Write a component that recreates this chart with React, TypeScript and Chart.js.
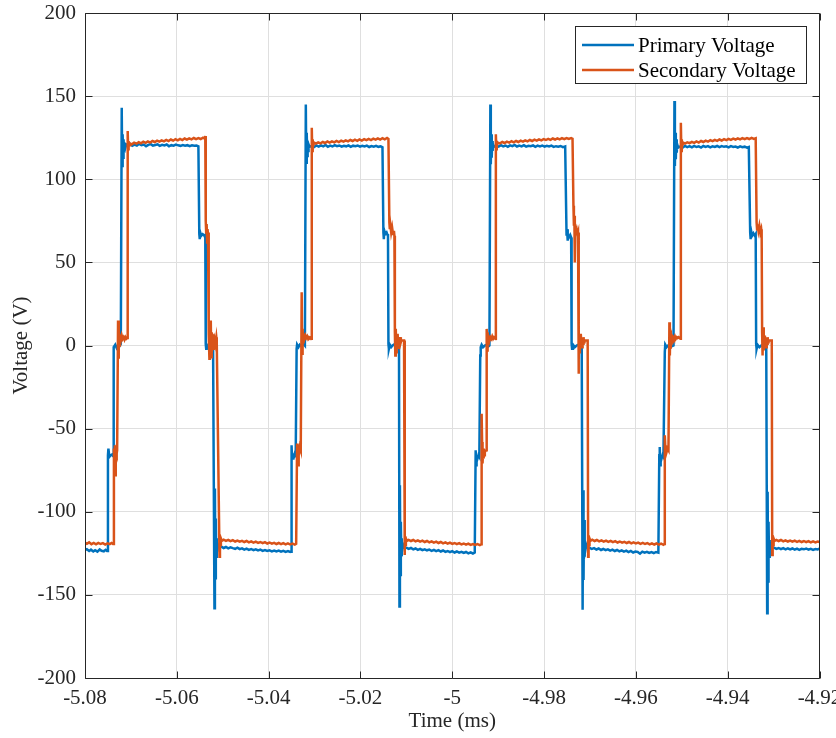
import React, { useEffect, useRef } from 'react';
import { Chart, registerables } from 'chart.js';

Chart.register(...registerables);

// ---- tick labels ----
const xTicks = [-5.08, -5.06, -5.04, -5.02, -5.0, -4.98, -4.96, -4.94, -4.92];
const yTicks = [-200, -150, -100, -50, 0, 50, 100, 150, 200];
const seriesNames = ['Primary Voltage', 'Secondary Voltage'];
const xTitle = 'Time (ms)';
const yTitle = 'Voltage (V)';

// ---- Primary voltage trace: [time (ms), voltage (V)] ----
const primaryTrace: [number, number][] = [
  [-5.08, -123], [-5.0796, -122.5], [-5.0791, -123.6], [-5.0787, -122.8], [-5.0782, -123.9], [-5.0778, -123.1],
  [-5.0773, -124], [-5.0768, -122.7], [-5.0764, -123.5], [-5.0759, -123.8], [-5.0755, -122.9], [-5.0752, -123.6],
  [-5.075, -66], [-5.0749, -62], [-5.0747, -67], [-5.0744, -66], [-5.0741, -65.5], [-5.0739, -66.5],
  [-5.0738, -3], [-5.0737, -1], [-5.0734, 0.5], [-5.0731, -1.5], [-5.0728, 0], [-5.0725, -0.5], [-5.0722, 1],
  [-5.072, 143], [-5.0719, 108], [-5.0718, 127], [-5.0717, 113], [-5.0716, 124], [-5.0715, 117], [-5.0714, 122],
  [-5.0712, 119], [-5.071, 121],
  [-5.0706, 120.3], [-5.0701, 121.2], [-5.0697, 120.1], [-5.0692, 120.8], [-5.0687, 120.2], [-5.0682, 121.3],
  [-5.0677, 120.5], [-5.0672, 120.9], [-5.0667, 119.9], [-5.0662, 120.7], [-5.0657, 121.1], [-5.0652, 120.2],
  [-5.0647, 120.6], [-5.0642, 121], [-5.0637, 120.1], [-5.0632, 120.7], [-5.0627, 120.3], [-5.0622, 120.9],
  [-5.0617, 119.8], [-5.0612, 120.5], [-5.0607, 120.2], [-5.0602, 120.8], [-5.0597, 120.4], [-5.0592, 120.1],
  [-5.0587, 120.6], [-5.0582, 120.2], [-5.0577, 120.5], [-5.0572, 119.9], [-5.0567, 120.4], [-5.0562, 120.1],
  [-5.0557, 120.3], [-5.0553, 119.8],
  [-5.0551, 67], [-5.055, 64], [-5.0549, 68], [-5.0547, 66], [-5.0544, 67], [-5.0541, 66.5], [-5.0539, 65.5], [-5.0538, 66],
  [-5.0537, 1], [-5.0536, -2], [-5.0535, 0.5], [-5.0532, -1], [-5.0529, 0], [-5.0526, -0.5], [-5.0523, 0.5], [-5.0521, -1],
  [-5.0518, -158], [-5.0517, -86], [-5.0516, -140], [-5.0515, -104], [-5.0514, -127], [-5.0513, -116], [-5.0512, -124],
  [-5.051, -120], [-5.0508, -121.5],
  [-5.0503, -121], [-5.0498, -121.8], [-5.0493, -121.2], [-5.0488, -122], [-5.0483, -121.4], [-5.0478, -121.9],
  [-5.0473, -122.3], [-5.0468, -121.6], [-5.0463, -122.5], [-5.0458, -122], [-5.0453, -122.8], [-5.0448, -122.2],
  [-5.0443, -122.9], [-5.0438, -122.4], [-5.0433, -123.1], [-5.0428, -122.6], [-5.0423, -123.3], [-5.0418, -122.8],
  [-5.0413, -123.5], [-5.0408, -123], [-5.0403, -123.6], [-5.0398, -123.2], [-5.0393, -123.8], [-5.0388, -123.3],
  [-5.0383, -123.9], [-5.0378, -123.4], [-5.0373, -124], [-5.0368, -123.5], [-5.0363, -124.1], [-5.0358, -123.6],
  [-5.0353, -124.2], [-5.0351, -124],
  [-5.035, -60], [-5.0349, -68], [-5.0347, -66], [-5.0345, -67], [-5.0343, -65], [-5.0341, -66],
  [-5.0339, -2], [-5.0338, 0.5], [-5.0335, -1], [-5.0332, 0.5], [-5.0328, -0.5], [-5.0324, 1], [-5.0321, 0],
  [-5.0319, 145], [-5.0318, 110], [-5.0317, 128], [-5.0316, 114], [-5.0315, 123], [-5.0314, 117], [-5.0313, 121], [-5.0311, 119.5],
  [-5.0306, 120.1], [-5.0301, 119.4], [-5.0296, 120.3], [-5.0291, 119.6], [-5.0286, 120.4], [-5.0281, 119.8],
  [-5.0276, 120.6], [-5.0271, 119.5], [-5.0266, 120.2], [-5.0261, 119.7], [-5.0256, 120.5], [-5.0251, 119.9],
  [-5.0246, 120.3], [-5.0241, 119.6], [-5.0236, 120.1], [-5.0231, 119.8], [-5.0226, 120.4], [-5.0221, 119.5],
  [-5.0216, 120.2], [-5.0211, 119.9], [-5.0206, 120.3], [-5.0201, 119.6], [-5.0196, 120.1], [-5.0191, 119.7],
  [-5.0186, 120.2], [-5.0181, 119.4], [-5.0176, 120], [-5.0171, 119.6], [-5.0166, 120.1], [-5.0161, 119.5],
  [-5.0156, 119.8], [-5.0152, 119.2],
  [-5.015, 68], [-5.0149, 64], [-5.0148, 69], [-5.0146, 67], [-5.0143, 68], [-5.0141, 66.5], [-5.014, 67],
  [-5.0139, 1], [-5.0138, -2], [-5.0136, 0.5], [-5.0133, -1], [-5.013, 0], [-5.0127, 0.5], [-5.0123, -0.5], [-5.0119, 0], [-5.0116, 0],
  [-5.0115, -157], [-5.0114, -84], [-5.0113, -138], [-5.0112, -106], [-5.0111, -126], [-5.011, -116], [-5.0109, -123],
  [-5.0107, -120], [-5.0105, -121.5],
  [-5.01, -121.6], [-5.0095, -122.3], [-5.009, -121.8], [-5.0085, -122.6], [-5.008, -122.1], [-5.0075, -122.9],
  [-5.007, -122.3], [-5.0065, -123.1], [-5.006, -122.6], [-5.0055, -123.2], [-5.005, -122.8], [-5.0045, -123.5],
  [-5.004, -122.9], [-5.0035, -123.7], [-5.003, -123.1], [-5.0025, -123.9], [-5.002, -123.3], [-5.0015, -124.1],
  [-5.001, -123.6], [-5.0005, -124.3], [-5.0, -123.7], [-4.9995, -124.5], [-4.999, -123.9], [-4.9985, -124.6],
  [-4.998, -124.1], [-4.9975, -124.8], [-4.997, -124.2], [-4.9965, -125], [-4.996, -124.4], [-4.9955, -125.1], [-4.9951, -124.5],
  [-4.9949, -63], [-4.9948, -72], [-4.9947, -67], [-4.9945, -68], [-4.9943, -66], [-4.9941, -67],
  [-4.9939, -6], [-4.9938, -1], [-4.9936, 0.5], [-4.9933, -1], [-4.9929, 0], [-4.9925, 0.5], [-4.9921, -0.5], [-4.9919, 0],
  [-4.9917, 145], [-4.9916, 109], [-4.9915, 127], [-4.9914, 113], [-4.9913, 123], [-4.9912, 117], [-4.9911, 121], [-4.9909, 119.5],
  [-4.9904, 120.2], [-4.9899, 119.6], [-4.9894, 120.5], [-4.9889, 119.8], [-4.9884, 120.3], [-4.9879, 119.5],
  [-4.9874, 120.4], [-4.9869, 119.9], [-4.9864, 120.6], [-4.9859, 119.7], [-4.9854, 120.2], [-4.9849, 119.8],
  [-4.9844, 120.5], [-4.9839, 119.6], [-4.9834, 120.1], [-4.9829, 119.9], [-4.9824, 120.4], [-4.9819, 119.5],
  [-4.9814, 120.2], [-4.9809, 119.8], [-4.9804, 120.3], [-4.9799, 119.6], [-4.9794, 120.1], [-4.9789, 119.7],
  [-4.9784, 120.2], [-4.9779, 119.5], [-4.9774, 119.9], [-4.9769, 119.6], [-4.9764, 120], [-4.9759, 119.3], [-4.9754, 119.7],
  [-4.9751, 66], [-4.975, 70], [-4.9749, 63], [-4.9748, 67], [-4.9746, 65], [-4.9743, 66.5], [-4.9741, 65],
  [-4.974, 1], [-4.9739, -2], [-4.9737, 0.5], [-4.9733, -1], [-4.9729, 0], [-4.9725, 0.5], [-4.9721, -0.5], [-4.9718, 0],
  [-4.9716, -159], [-4.9715, -87], [-4.9714, -141], [-4.9713, -105], [-4.9712, -127], [-4.9711, -117], [-4.971, -123],
  [-4.9708, -120], [-4.9706, -121.5],
  [-4.9701, -121.7], [-4.9696, -122.4], [-4.9691, -121.9], [-4.9686, -122.7], [-4.9681, -122.1], [-4.9676, -123],
  [-4.9671, -122.4], [-4.9666, -123.1], [-4.9661, -122.6], [-4.9656, -123.4], [-4.9651, -122.8], [-4.9646, -123.6],
  [-4.9641, -123], [-4.9636, -123.8], [-4.9631, -123.2], [-4.9626, -124], [-4.9621, -123.4], [-4.9616, -124.3],
  [-4.9611, -123.6], [-4.9606, -124.5], [-4.9601, -123.9], [-4.9596, -124.2], [-4.9591, -125.2], [-4.9586, -124],
  [-4.9581, -124.6], [-4.9576, -124.1], [-4.9571, -124.8], [-4.9566, -124.3], [-4.9561, -124.9], [-4.9556, -124.2], [-4.9551, -124.6],
  [-4.9549, -66], [-4.9548, -61], [-4.9547, -72], [-4.9546, -67], [-4.9544, -68], [-4.9542, -66], [-4.954, -67],
  [-4.9537, -4], [-4.9536, 0.5], [-4.9533, -1], [-4.953, 0], [-4.9526, 0.5], [-4.9522, -0.5], [-4.9518, 0],
  [-4.9516, 147], [-4.9515, 108], [-4.9514, 128], [-4.9513, 112], [-4.9512, 124], [-4.9511, 116], [-4.951, 121], [-4.9508, 119],
  [-4.9503, 119.7], [-4.9498, 119.1], [-4.9493, 120], [-4.9488, 119.3], [-4.9483, 119.9], [-4.9478, 119.2],
  [-4.9473, 120.1], [-4.9468, 119.4], [-4.9463, 119.8], [-4.9458, 119.1], [-4.9453, 120], [-4.9448, 119.5],
  [-4.9443, 119.9], [-4.9438, 119.2], [-4.9433, 119.8], [-4.9428, 119.4], [-4.9423, 120], [-4.9418, 119.3],
  [-4.9413, 119.9], [-4.9408, 119.5], [-4.9403, 119.8], [-4.9398, 119.2], [-4.9393, 119.9], [-4.9388, 119.4],
  [-4.9383, 119.7], [-4.9378, 119.1], [-4.9373, 119.8], [-4.9368, 119.3], [-4.9363, 119.6], [-4.9358, 119], [-4.9354, 119.4],
  [-4.9351, 68], [-4.935, 64], [-4.9349, 69], [-4.9347, 66], [-4.9344, 67.5], [-4.9341, 66], [-4.9339, 67],
  [-4.9338, 1], [-4.9337, -2], [-4.9335, 0.5], [-4.9331, -1], [-4.9327, 0], [-4.9323, 0.5], [-4.9319, -0.5], [-4.9316, 0],
  [-4.9314, -161], [-4.9313, -88], [-4.9312, -142], [-4.9311, -106], [-4.931, -127], [-4.9309, -117], [-4.9308, -123],
  [-4.9306, -120], [-4.9304, -121.5],
  [-4.9299, -121.6], [-4.9294, -122.3], [-4.9289, -121.8], [-4.9284, -122.5], [-4.9279, -121.9], [-4.9274, -122.6],
  [-4.9269, -122], [-4.9264, -122.7], [-4.9259, -122.1], [-4.9254, -122.8], [-4.9249, -122.2], [-4.9244, -122.9],
  [-4.9239, -122.3], [-4.9234, -122.6], [-4.9229, -122.1], [-4.9224, -122.8], [-4.9219, -122.3], [-4.9214, -122.9],
  [-4.9209, -122.4], [-4.9204, -122.7], [-4.92, -122.2],
];

// ---- Secondary voltage trace: [time (ms), voltage (V)] ----
const secondaryTrace: [number, number][] = [
  [-5.08, -118.6], [-5.0796, -119.3], [-5.0791, -118.4], [-5.0786, -119.5], [-5.0781, -118.8], [-5.0776, -119.6],
  [-5.0771, -118.7], [-5.0766, -119.4], [-5.0761, -118.9], [-5.0756, -119.7], [-5.0751, -119], [-5.0746, -119.5],
  [-5.0742, -118.8], [-5.0739, -119.4],
  [-5.0737, -62], [-5.0736, -66], [-5.0735, -60], [-5.0734, -78], [-5.0733, -70], [-5.0732, -64], [-5.0731, -65], [-5.073, -63],
  [-5.0728, 15], [-5.0727, -8], [-5.0726, 6], [-5.0725, 0], [-5.0724, 5], [-5.0722, 3], [-5.072, 6], [-5.0718, 4],
  [-5.0716, 5], [-5.0714, 3.5], [-5.0712, 5], [-5.071, 4], [-5.0708, 4.5],
  [-5.0707, 129], [-5.0706, 118], [-5.0705, 123], [-5.0704, 120.5], [-5.0702, 121.5],
  [-5.0698, 121], [-5.0693, 122], [-5.0688, 121.4], [-5.0683, 122.3], [-5.0678, 121.6], [-5.0673, 122.6],
  [-5.0668, 121.9], [-5.0663, 122.8], [-5.0658, 122.1], [-5.0653, 123], [-5.0648, 122.4], [-5.0643, 123.2],
  [-5.0638, 122.6], [-5.0633, 123.4], [-5.0628, 122.8], [-5.0623, 123.7], [-5.0618, 123], [-5.0613, 123.9],
  [-5.0608, 123.2], [-5.0603, 124.1], [-5.0598, 123.4], [-5.0593, 124.3], [-5.0588, 123.6], [-5.0583, 124.5],
  [-5.0578, 123.8], [-5.0573, 124.6], [-5.0568, 124], [-5.0563, 124.8], [-5.0558, 124.1], [-5.0553, 124.7],
  [-5.0548, 124.2], [-5.0543, 125], [-5.0539, 124.4], [-5.0538, 126],
  [-5.0537, 75], [-5.0536, 68], [-5.0535, 73], [-5.0534, 62], [-5.0533, 70], [-5.0532, 66], [-5.0531, 68],
  [-5.053, 7], [-5.0529, -8], [-5.0528, 9], [-5.0527, -3], [-5.0526, 15], [-5.0525, -7], [-5.0524, 8], [-5.0523, 2],
  [-5.0522, 7], [-5.0521, -2], [-5.052, 5], [-5.0519, 2], [-5.0518, 4], [-5.0516, 1], [-5.0514, 5], [-5.0513, 2],
  [-5.0507, -127], [-5.0506, -115], [-5.0505, -120], [-5.0504, -116], [-5.0502, -117.5],
  [-5.0498, -116.8], [-5.0493, -117.5], [-5.0488, -116.9], [-5.0483, -117.7], [-5.0478, -117.1], [-5.0473, -117.9],
  [-5.0468, -117.3], [-5.0463, -118], [-5.0458, -117.5], [-5.0453, -118.2], [-5.0448, -117.6], [-5.0443, -118.4],
  [-5.0438, -117.8], [-5.0433, -118.6], [-5.0428, -118], [-5.0423, -118.7], [-5.0418, -118.2], [-5.0413, -118.9],
  [-5.0408, -118.3], [-5.0403, -119.1], [-5.0398, -118.5], [-5.0393, -119.2], [-5.0388, -118.7], [-5.0383, -119.4],
  [-5.0378, -118.8], [-5.0373, -119.5], [-5.0368, -118.9], [-5.0363, -119.6], [-5.0358, -119], [-5.0353, -119.7],
  [-5.0348, -119.2], [-5.0343, -119.8], [-5.034, -119.3],
  [-5.0338, -59], [-5.0337, -64], [-5.0336, -72], [-5.0335, -62], [-5.0334, -66], [-5.0332, -61], [-5.033, -63],
  [-5.0328, 32], [-5.0327, -5], [-5.0326, 10], [-5.0325, 2], [-5.0324, 6], [-5.0322, 4], [-5.032, 6], [-5.0318, 4.5],
  [-5.0316, 5.5], [-5.0314, 4], [-5.0312, 5], [-5.031, 4.5], [-5.0308, 5], [-5.0307, 4],
  [-5.0306, 131], [-5.0305, 117], [-5.0304, 124], [-5.0303, 120], [-5.0301, 122],
  [-5.0297, 121.4], [-5.0292, 122.2], [-5.0287, 121.6], [-5.0282, 122.4], [-5.0277, 121.8], [-5.0272, 122.7],
  [-5.0267, 122], [-5.0262, 122.8], [-5.0257, 122.2], [-5.0252, 123.1], [-5.0247, 122.4], [-5.0242, 123.2],
  [-5.0237, 122.6], [-5.0232, 123.4], [-5.0227, 122.8], [-5.0222, 123.6], [-5.0217, 123], [-5.0212, 123.8],
  [-5.0207, 123.1], [-5.0202, 124], [-5.0197, 123.3], [-5.0192, 124.1], [-5.0187, 123.5], [-5.0182, 124.3],
  [-5.0177, 123.6], [-5.0172, 124.4], [-5.0167, 123.8], [-5.0162, 124.6], [-5.0157, 123.9], [-5.0152, 124.7],
  [-5.0147, 124], [-5.0142, 124.8], [-5.0139, 124.3],
  [-5.0137, 74], [-5.0136, 70], [-5.0135, 73], [-5.0133, 68], [-5.0131, 71], [-5.0129, 67], [-5.0127, 69], [-5.0126, 66],
  [-5.0125, 8], [-5.0124, -6], [-5.0123, 10], [-5.0122, -4], [-5.0121, 6], [-5.012, 0], [-5.0119, 7], [-5.0118, 2],
  [-5.0117, 5], [-5.0116, -2], [-5.0115, 4], [-5.0114, 1], [-5.0113, 5], [-5.0112, 2], [-5.0111, 3], [-5.0105, 3],
  [-5.0104, -126], [-5.0103, -115], [-5.0102, -120], [-5.0101, -116], [-5.0099, -117.5],
  [-5.0095, -116.9], [-5.009, -117.6], [-5.0085, -117], [-5.008, -117.8], [-5.0075, -117.2], [-5.007, -118],
  [-5.0065, -117.4], [-5.006, -118.2], [-5.0055, -117.6], [-5.005, -118.4], [-5.0045, -117.8], [-5.004, -118.6],
  [-5.0035, -118], [-5.003, -118.8], [-5.0025, -118.2], [-5.002, -119], [-5.0015, -118.4], [-5.001, -119.2],
  [-5.0005, -118.6], [-5.0, -119.3], [-4.9995, -118.8], [-4.999, -119.5], [-4.9985, -118.9], [-4.998, -119.6],
  [-4.9975, -119.1], [-4.997, -119.8], [-4.9965, -119.2], [-4.996, -119.9], [-4.9955, -119.4], [-4.995, -120],
  [-4.9945, -119.5], [-4.994, -120.1], [-4.9937, -119.6],
  [-4.9936, -41], [-4.9935, -58], [-4.9934, -71], [-4.9933, -64], [-4.9932, -68], [-4.9931, -62], [-4.993, -66],
  [-4.9929, -64], [-4.9926, -63],
  [-4.9925, 10], [-4.9924, -3], [-4.9923, 8], [-4.9922, 1], [-4.9921, 6], [-4.9919, 3], [-4.9917, 5], [-4.9915, 4],
  [-4.9913, 5.5], [-4.9911, 4], [-4.9909, 5], [-4.9907, 4.5], [-4.9906, 4],
  [-4.9905, 127], [-4.9904, 118], [-4.9903, 123], [-4.9902, 121], [-4.99, 122],
  [-4.9896, 121.6], [-4.9891, 122.4], [-4.9886, 121.8], [-4.9881, 122.6], [-4.9876, 122], [-4.9871, 122.9],
  [-4.9866, 122.2], [-4.9861, 123], [-4.9856, 122.4], [-4.9851, 123.2], [-4.9846, 122.6], [-4.9841, 123.4],
  [-4.9836, 122.8], [-4.9831, 123.6], [-4.9826, 123], [-4.9821, 123.8], [-4.9816, 123.2], [-4.9811, 124],
  [-4.9806, 123.4], [-4.9801, 124.1], [-4.9796, 123.6], [-4.9791, 124.3], [-4.9786, 123.7], [-4.9781, 124.5],
  [-4.9776, 123.9], [-4.9771, 124.6], [-4.9766, 124], [-4.9761, 124.7], [-4.9756, 124.1], [-4.9751, 124.8],
  [-4.9746, 124.2], [-4.9741, 124.7], [-4.9738, 124.3],
  [-4.9736, 84], [-4.9735, 72], [-4.9734, 78], [-4.9733, 50], [-4.9732, 70], [-4.9731, 68], [-4.9729, 70], [-4.9727, 67], [-4.9726, 68],
  [-4.9725, -17], [-4.9724, 8], [-4.9723, -4], [-4.9722, 6], [-4.9721, 0], [-4.972, 7], [-4.9719, 2], [-4.9718, 5],
  [-4.9717, -1], [-4.9716, 4], [-4.9715, 1], [-4.9714, 5], [-4.9713, 2], [-4.9712, 3], [-4.9705, 3],
  [-4.9704, -127], [-4.9703, -115], [-4.9702, -120], [-4.9701, -116], [-4.9699, -117.5],
  [-4.9695, -116.8], [-4.969, -117.6], [-4.9685, -117], [-4.968, -117.8], [-4.9675, -117.2], [-4.967, -118],
  [-4.9665, -117.4], [-4.966, -118.1], [-4.9655, -117.5], [-4.965, -118.3], [-4.9645, -117.7], [-4.964, -118.5],
  [-4.9635, -117.9], [-4.963, -118.6], [-4.9625, -118.1], [-4.962, -118.8], [-4.9615, -118.2], [-4.961, -119],
  [-4.9605, -118.4], [-4.96, -119.1], [-4.9595, -118.6], [-4.959, -119.3], [-4.9585, -118.7], [-4.958, -119.4],
  [-4.9575, -118.9], [-4.957, -119.6], [-4.9565, -119], [-4.956, -119.7], [-4.9555, -119.1], [-4.955, -119.8],
  [-4.9545, -119.2], [-4.954, -119.9], [-4.9538, -119.4],
  [-4.9537, -54], [-4.9536, -60], [-4.9535, -66], [-4.9534, -61], [-4.9533, -64], [-4.9531, -62], [-4.9529, -63],
  [-4.9527, 14], [-4.9526, -6], [-4.9525, 9], [-4.9524, -2], [-4.9523, 6], [-4.9521, 3], [-4.9519, 5], [-4.9517, 4],
  [-4.9515, 5.5], [-4.9513, 4], [-4.9511, 5], [-4.9509, 4.5], [-4.9507, 5], [-4.9503, 4],
  [-4.9502, 134], [-4.9501, 117], [-4.95, 124], [-4.9499, 120], [-4.9497, 122],
  [-4.9493, 121.4], [-4.9488, 122.2], [-4.9483, 121.7], [-4.9478, 122.5], [-4.9473, 121.9], [-4.9468, 122.8],
  [-4.9463, 122.1], [-4.9458, 123], [-4.9453, 122.4], [-4.9448, 123.2], [-4.9443, 122.6], [-4.9438, 123.5],
  [-4.9433, 122.9], [-4.9428, 123.7], [-4.9423, 123.1], [-4.9418, 123.9], [-4.9413, 123.3], [-4.9408, 124.1],
  [-4.9403, 123.5], [-4.9398, 124.3], [-4.9393, 123.7], [-4.9388, 124.4], [-4.9383, 123.9], [-4.9378, 124.6],
  [-4.9373, 124], [-4.9368, 124.7], [-4.9363, 124.1], [-4.9358, 124.8], [-4.9353, 124.2], [-4.9348, 124.9],
  [-4.9343, 124.3], [-4.9339, 124.7],
  [-4.9337, 74], [-4.9336, 70], [-4.9335, 73], [-4.9333, 69], [-4.9331, 72], [-4.9329, 68], [-4.9327, 70], [-4.9326, 67],
  [-4.9325, 8], [-4.9324, -6], [-4.9323, 11], [-4.9322, -3], [-4.9321, 7], [-4.932, 0], [-4.9319, 6], [-4.9318, 2],
  [-4.9317, 5], [-4.9316, -1], [-4.9315, 4], [-4.9314, 1], [-4.9313, 5], [-4.9312, 2], [-4.9311, 3], [-4.9304, 3],
  [-4.9303, -126], [-4.9302, -115], [-4.9301, -120], [-4.93, -116], [-4.9298, -117.5],
  [-4.9294, -116.9], [-4.9289, -117.6], [-4.9284, -117], [-4.9279, -117.8], [-4.9274, -117.2], [-4.9269, -117.9],
  [-4.9264, -117.3], [-4.9259, -118], [-4.9254, -117.4], [-4.9249, -118.1], [-4.9244, -117.5], [-4.9239, -118.2],
  [-4.9234, -117.6], [-4.9229, -118.3], [-4.9224, -117.7], [-4.9219, -118.4], [-4.9214, -117.8], [-4.9209, -118.4],
  [-4.9204, -117.9], [-4.92, -118.2],
];

const seriesColors = ['#0072BD', '#D95319'];
const FONT = '"Liberation Serif", "Times New Roman", Times, serif';
const AXIS = '#262626';
const GRID = '#dfdfdf';

export default function App() {
  const ref = useRef<HTMLCanvasElement | null>(null);

  useEffect(() => {
    const canvas = ref.current;
    if (!canvas) return;

    const framePlugin = {
      id: 'matlabFrame',
      afterDatasetsDraw(chart: any) {
        const { ctx, chartArea: a, scales } = chart;
        const L = Math.round(a.left) + 0.5;
        const R = Math.round(a.right) - 0.5;
        const T = Math.round(a.top) + 0.5;
        const B = Math.round(a.bottom) + 0.5;
        ctx.save();
        ctx.strokeStyle = AXIS;
        ctx.lineWidth = 1;
        ctx.beginPath();
        ctx.rect(L, T, R - L, B - T);
        const tl = 7;
        for (const v of xTicks) {
          const px = Math.round(scales.x.getPixelForValue(v)) + 0.5;
          ctx.moveTo(px, B);
          ctx.lineTo(px, B - tl);
          ctx.moveTo(px, T);
          ctx.lineTo(px, T + tl);
        }
        for (const v of yTicks) {
          const py = Math.round(scales.y.getPixelForValue(v)) + 0.5;
          ctx.moveTo(L, py);
          ctx.lineTo(L + tl, py);
          ctx.moveTo(R, py);
          ctx.lineTo(R - tl, py);
        }
        ctx.stroke();
        ctx.restore();
      },
      afterDraw(chart: any) {
        const { ctx } = chart;
        const bx = 575.5, by = 26.5, bw = 231, bh = 57;
        ctx.save();
        ctx.fillStyle = '#ffffff';
        ctx.fillRect(bx, by, bw, bh);
        ctx.strokeStyle = AXIS;
        ctx.lineWidth = 1;
        ctx.strokeRect(bx, by, bw, bh);
        const rows = [45, 70];
        seriesNames.forEach((name, i) => {
          ctx.strokeStyle = seriesColors[i];
          ctx.lineWidth = 2.5;
          ctx.beginPath();
          ctx.moveTo(582, rows[i]);
          ctx.lineTo(634, rows[i]);
          ctx.stroke();
          ctx.fillStyle = '#000000';
          ctx.font = `21px ${FONT}`;
          ctx.textBaseline = 'middle';
          ctx.textAlign = 'left';
          ctx.fillText(name, 638, rows[i] + 1);
        });
        ctx.restore();
      },
    };

    const toPoints = (trace: [number, number][]) => trace.map(([x, y]) => ({ x, y }));

    const chart = new Chart(canvas, {
      type: 'line',
      data: {
        datasets: [
          {
            label: seriesNames[0],
            data: toPoints(primaryTrace),
            borderColor: seriesColors[0],
            backgroundColor: seriesColors[0],
            borderWidth: 2.5,
            pointRadius: 0,
            tension: 0,
            fill: false,
            order: 1,
          },
          {
            label: seriesNames[1],
            data: toPoints(secondaryTrace),
            borderColor: seriesColors[1],
            backgroundColor: seriesColors[1],
            borderWidth: 2.5,
            pointRadius: 0,
            tension: 0,
            fill: false,
            order: 0,
          },
        ],
      },
      options: {
        responsive: false,
        animation: false,
        devicePixelRatio: 1,
        layout: { padding: { top: 13, right: 16.5, bottom: 0, left: 0 } },
        plugins: {
          legend: { display: false },
          tooltip: { enabled: false },
        },
        scales: {
          x: {
            type: 'linear',
            min: -5.08,
            max: -4.92,
            afterBuildTicks: (scale: any) => {
              scale.ticks = xTicks.map((v) => ({ value: v }));
            },
            afterFit: (scale: any) => {
              scale.height = 60;
              scale.paddingLeft = 0;
              scale.paddingRight = 0;
            },
            grid: { color: GRID, lineWidth: 1, drawTicks: false },
            border: { display: false },
            ticks: {
              autoSkip: false,
              maxRotation: 0,
              minRotation: 0,
              padding: 8,
              color: AXIS,
              font: { family: FONT, size: 21 },
              callback: (v: any) => String(Number(Number(v).toFixed(2))),
            },
            title: {
              display: true,
              text: xTitle,
              color: AXIS,
              font: { family: FONT, size: 21 },
              padding: { top: 0, bottom: 4 },
            },
          },
          y: {
            type: 'linear',
            min: -200,
            max: 200,
            afterBuildTicks: (scale: any) => {
              scale.ticks = yTicks.map((v) => ({ value: v }));
            },
            afterFit: (scale: any) => {
              scale.width = 85;
              scale.paddingTop = 0;
              scale.paddingBottom = 0;
            },
            grid: { color: GRID, lineWidth: 1, drawTicks: false },
            border: { display: false },
            ticks: {
              padding: 9,
              color: AXIS,
              font: { family: FONT, size: 21 },
              callback: (v: any) => String(v),
            },
            title: {
              display: true,
              text: yTitle,
              color: AXIS,
              font: { family: FONT, size: 21 },
              padding: { top: 9, bottom: 0 },
            },
          },
        },
      },
      plugins: [framePlugin],
    } as any);

    return () => {
      chart.destroy();
    };
  }, []);

  return (
    <div style={{ position: 'absolute', left: 0, top: 0, width: 836, height: 738, background: '#ffffff' }}>
      <canvas ref={ref} width={836} height={738} style={{ display: 'block', width: 836, height: 738 }} />
    </div>
  );
}
